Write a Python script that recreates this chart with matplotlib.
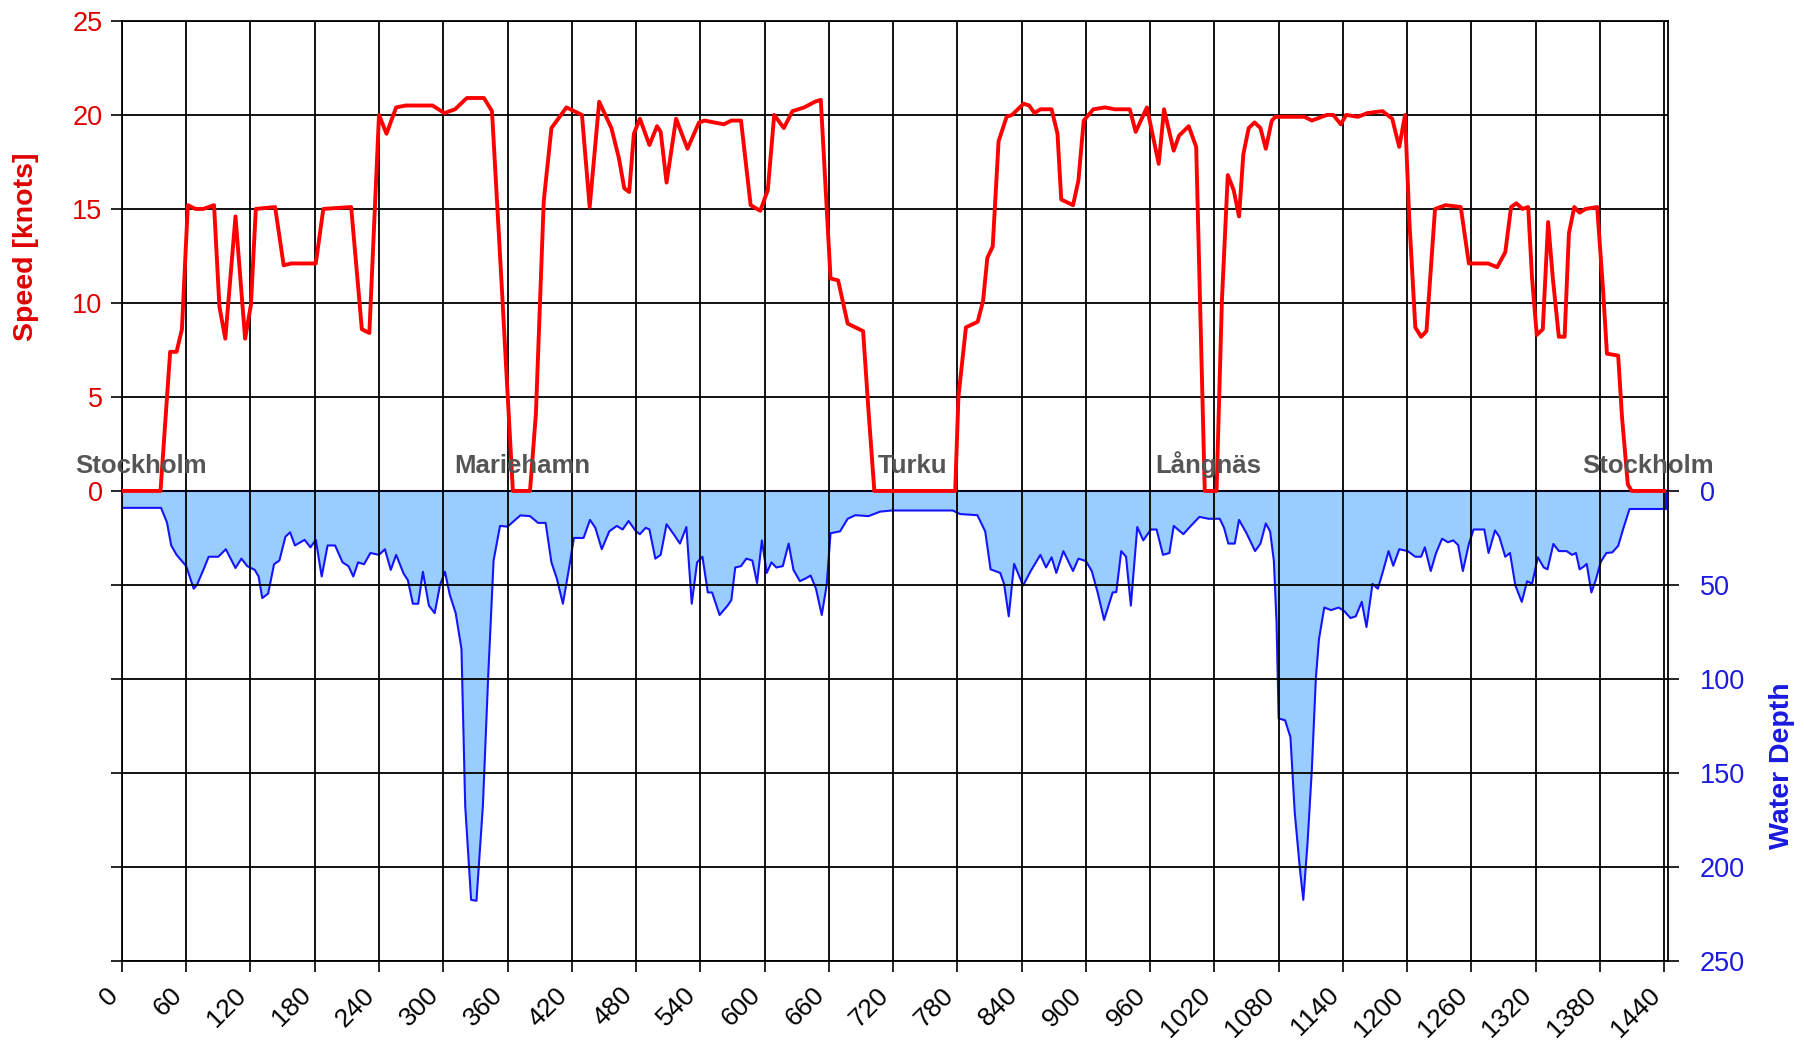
import matplotlib.pyplot as plt
from matplotlib.transforms import ScaledTranslation

# ship speed over the day (minutes, knots)
speed_t = [0, 36, 45, 51, 56, 61.5, 68.6, 76, 86, 91, 96.5, 106, 115, 120.4, 125, 143, 151, 158, 181,
           188, 214, 224, 231, 240, 247, 256, 265, 290, 301, 311, 322, 338, 345.5, 354.5, 365, 381,
           386.5, 393.8, 401, 415, 429.5, 436.7, 445.6, 457, 464, 469, 473.6, 478, 483.6, 492.5,
           499.6, 503, 508.5, 517.4, 528, 538.8, 544, 562, 569, 578, 587, 596, 603, 609, 618, 626,
           637, 647, 652.5, 661.6, 668.7, 677.6, 692, 697, 702.5, 778, 781, 788, 799, 804, 808, 813,
           818.5, 826, 831, 842, 847, 852, 857.6, 868, 873.5, 877, 888, 893, 898, 907, 918, 927, 941,
           946.5, 957, 968, 973, 982, 987, 996, 1003, 1011, 1022, 1027, 1032.5, 1038, 1043, 1047,
           1052, 1057.5, 1063, 1068, 1073.6, 1077, 1104, 1111, 1125, 1131, 1138, 1143, 1154, 1163,
           1177, 1186, 1192.6, 1198, 1202, 1207.6, 1213, 1218, 1226, 1236, 1250, 1257.6, 1275.5,
           1284, 1291.6, 1297, 1302, 1307.6, 1313, 1316.6, 1321, 1326.6, 1331.6, 1336, 1341.6, 1347,
           1351, 1356, 1361, 1366.6, 1377.4, 1383, 1386.5, 1397, 1400.6, 1406, 1409.6, 1440]
speed_kn = [0, 0, 7.4, 7.4, 8.6, 15.2, 15.0, 15.0, 15.2, 9.8, 8.1, 14.6, 8.1, 9.9, 15.0, 15.1, 12.0,
            12.1, 12.1, 15.0, 15.1, 8.6, 8.4, 20.0, 19.0, 20.4, 20.5, 20.5, 20.1, 20.3, 20.9, 20.9,
            20.2, 11.0, 0, 0, 4.1, 15.4, 19.3, 20.4, 20.0, 15.1, 20.7, 19.3, 17.7, 16.1, 15.9, 19.0,
            19.8, 18.4, 19.4, 19.1, 16.4, 19.8, 18.2, 19.6, 19.7, 19.5, 19.7, 19.7, 15.2, 14.9, 16.0,
            20.0, 19.3, 20.2, 20.4, 20.7, 20.8, 11.3, 11.2, 8.9, 8.5, 4.3, 0, 0, 5.0, 8.7, 9.0, 10.1,
            12.4, 13.0, 18.6, 19.9, 20.0, 20.6, 20.5, 20.1, 20.3, 20.3, 19.0, 15.5, 15.2, 16.5, 19.7,
            20.3, 20.4, 20.3, 20.3, 19.1, 20.4, 17.4, 20.3, 18.1, 18.9, 19.4, 18.3, 0, 0, 10.1, 16.8,
            16.0, 14.6, 17.9, 19.3, 19.6, 19.3, 18.2, 19.7, 19.9, 19.9, 19.7, 20.0, 20.0, 19.5, 20.0,
            19.9, 20.1, 20.2, 19.8, 18.3, 20.0, 14.4, 8.7, 8.2, 8.5, 15.0, 15.2, 15.1, 12.1, 12.1,
            11.9, 12.7, 15.1, 15.3, 15.0, 15.1, 11.3, 8.3, 8.6, 14.3, 11.3, 8.2, 8.2, 13.7, 15.1,
            14.8, 15.0, 15.1, 10.6, 7.3, 7.2, 3.9, 0.35, 0, 0]

# water depth along the route (minutes, metres)
depth_t = [0, 36.5, 42, 46, 51, 60, 67, 70, 76, 81, 90, 97, 106, 111.5, 117, 124, 127.6, 131, 136.5,
           142, 147, 152.6, 157, 161.5, 170.5, 176, 181, 186.5, 192, 199, 206, 211.5, 216, 220.5,
           226, 232, 240, 245.5, 251, 256, 263, 267, 271.6, 276.6, 281, 286.6, 292, 297, 301.6, 306,
           311.6, 317, 320.5, 326, 331, 337, 342, 347, 353, 360, 368, 372, 381, 388.5, 395.6, 401,
           406, 411.7, 417, 422, 431, 437, 442, 448, 455, 462, 467.5, 473, 480, 483.6, 489, 492.5,
           498, 503, 508.5, 515.6, 521, 527, 532, 537, 542, 547, 551, 558, 565.5, 569, 572.6, 578,
           583, 588.6, 593, 597.5, 602, 606.4, 611, 617, 622.5, 627, 633, 638.5, 643, 648, 653.4,
           658, 661.6, 670.5, 677.6, 684.7, 697, 708, 718.6, 775.6, 782.7, 798.7, 806, 811, 820,
           823.6, 828, 833, 841.4, 848.5, 857.5, 862.8, 868, 872.4, 879, 888, 893, 900, 905.5, 911,
           917, 925, 928.4, 933, 937.5, 942, 948, 953.6, 960.7, 966, 972, 978, 982, 991, 998, 1006,
           1014.6, 1025, 1029, 1033, 1039, 1043, 1050, 1058, 1063, 1068, 1072, 1075.5, 1078, 1080,
           1086, 1091, 1095, 1100, 1103, 1107, 1111, 1114.7, 1117.6, 1122.6, 1129, 1136, 1141.4,
           1147, 1152, 1157.6, 1162, 1167.6, 1172.6, 1177, 1182.6, 1187, 1192.6, 1200.5, 1207.6,
           1213, 1216.5, 1222, 1227, 1232.6, 1238, 1243, 1247.6, 1252, 1257.6, 1262, 1272, 1276,
           1282, 1286, 1291.6, 1296, 1301, 1307, 1312, 1316.6, 1322, 1327.5, 1331, 1336.5, 1341.6,
           1348.8, 1354, 1357.6, 1361, 1364.7, 1367.6, 1372, 1376, 1380.7, 1386, 1391.5, 1397,
           1402, 1407.6, 1441.5]
depth_m = [9, 9, 16.7, 29, 34, 40, 52, 50, 42, 35, 35, 31, 41, 36, 40, 42, 45.5, 57, 54.6, 39, 37,
           24.4, 22, 29, 26, 30, 26, 45.5, 29, 29, 38, 40, 45.5, 38, 39, 33, 34, 31, 42, 34, 44,
           47.5, 60, 60, 43, 61, 65, 50, 43, 55, 65, 84, 167.5, 217.5, 218, 167.5, 98, 37, 18.6, 19,
           15, 13, 13.4, 17, 17, 38, 46.5, 60, 42.6, 25, 25, 15.4, 19.6, 31, 21.5, 18.6, 20.5, 16,
           21.5, 23, 19.6, 20.5, 36, 34, 17.7, 23.4, 28, 19.2, 60, 38, 35, 54, 54, 66, 61, 58, 40.7,
           40, 36, 37, 49, 26.3, 43.6, 38, 40.7, 40, 28, 42, 48, 46.5, 45, 52, 66, 50, 22.5, 21.5,
           14.8, 12.9, 13.4, 11, 10.4, 10.4, 12.3, 12.9, 21.5, 41.7, 43.6, 49.4, 66.7, 38.8, 50.3,
           42.6, 34, 40.7, 35.3, 43.6, 32, 42.6, 36, 37.3, 42.6, 54, 68.6, 54, 53.8, 32, 35, 61,
           19.2, 26.3, 20.5, 20.5, 34, 33, 18.6, 23, 18.6, 13.8, 14.8, 14.8, 19.6, 28, 28, 15.4,
           22.5, 32, 28, 17.3, 21.5, 37, 69.5, 121, 122, 131, 171, 202, 217.5, 187, 148, 100, 79,
           62, 63.4, 62, 64, 67.6, 66.7, 59, 72.4, 49.4, 52, 43.6, 32, 39.8, 31, 32, 35, 35, 30,
           42.6, 33, 25.4, 27.3, 26.3, 28.8, 42.6, 28.2, 20.5, 20.5, 33, 21, 24.4, 35, 33, 50.3, 59,
           48, 49.4, 35.3, 40.7, 41.7, 28.2, 32, 32, 34, 33, 41.7, 40.3, 38.8, 54, 47.5, 37.8, 33,
           32.7, 29.2, 19.6, 9.6, 9.6]

port_names = ["Stockholm", "Mariehamn", "Turku", "Långnäs", "Stockholm"]
port_t = [18, 374, 738, 1014, 1425]

x_ticks = list(range(0, 1441, 60))
speed_ticks = list(range(-25, 26, 5))
depth_ticks = list(range(0, 251, 50))

plt.rcParams['font.family'] = ['Liberation Sans', 'DejaVu Sans']

fig = plt.figure(figsize=(18.04, 10.46), dpi=100)
ax = fig.add_axes([0.0676, 0.0813, 0.857, 0.8987])
ax2 = ax.twinx()
# speed axes on top so its grid and red line sit over the depth fill
ax.set_zorder(ax2.get_zorder() + 1)
ax.patch.set_visible(False)

# depth profile
blue = '#1414ff'
ax2.fill_between(depth_t, 0, depth_m, facecolor='#99ccff', edgecolor='none')
ax2.plot(depth_t, depth_m, color=blue, lw=1.5)
ax2.axhline(0, color=blue, lw=1.5)
ax2.vlines([depth_t[0], depth_t[-1]], 0, [depth_m[0], depth_m[-1]], color=blue, lw=1.5)
ax2.set_ylim(250, -250)
ax2.set_yticks(depth_ticks)
ax2.tick_params(axis='y', direction='out', length=8, width=1.2, color='black',
                labelcolor='#1a1ae0', labelsize=19.5, pad=15)
ax2.set_ylabel('Water Depth', color='#1a1ae0', fontsize=20.5, fontweight='bold')
ax2.yaxis.set_label_coords(1.0654, 0.2074)
for s in ax2.spines.values():
    s.set_visible(False)

# speed
ax.plot(speed_t, speed_kn, color='#ff0000', lw=2.8, solid_joinstyle='round', zorder=3)
ax.set_xlim(0, 1443.5)
ax.set_ylim(-25, 25)
ax.set_yticks(speed_ticks)
ax.set_yticklabels([str(v) if v >= 0 else '' for v in speed_ticks])
ax.set_xticks(x_ticks)
ax.grid(True, color='black', linewidth=1.3)
ax.tick_params(axis='y', direction='out', length=8, width=1.2, color='black',
               labelcolor='#e00000', labelsize=19.5, pad=6)
ax.tick_params(axis='x', direction='out', length=8, width=1.2, color='black',
               labelcolor='black', labelsize=19, pad=14)
for s in ax.spines.values():
    s.set_color('black')
    s.set_linewidth(1.3)
ax.set_ylabel('Speed [knots]', color='#e00000', fontsize=20.5, fontweight='bold')
ax.yaxis.set_label_coords(-0.0537, 0.76)

shift = ScaledTranslation(-0.08, 0, fig.dpi_scale_trans)
for lbl in ax.get_xticklabels():
    lbl.set_rotation(45)
    lbl.set_ha('right')
    lbl.set_va('center')
    lbl.set_rotation_mode('anchor')
    lbl.set_transform(lbl.get_transform() + shift)

for name, t in zip(port_names, port_t):
    ax.text(t, 0.95, name, ha='center', va='baseline', fontsize=18.5,
            fontweight='bold', color='#555555', zorder=4)

fig.savefig('out.png', dpi=100)
